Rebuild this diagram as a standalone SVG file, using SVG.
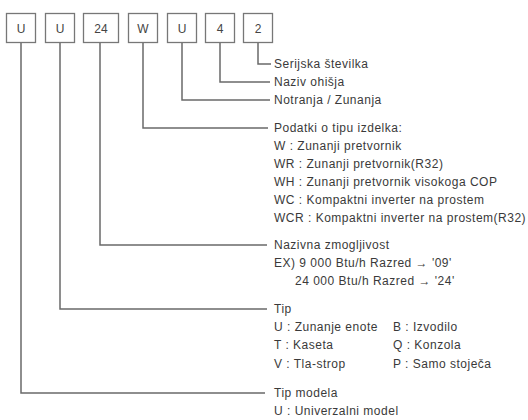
<svg xmlns="http://www.w3.org/2000/svg" width="528" height="420" viewBox="0 0 528 420">
<style>
.box{fill:#fff;stroke:#777;stroke-width:1.3}
.bt{font-family:"Liberation Sans",Arial,sans-serif;font-size:12px;fill:#444;text-anchor:middle}
.t{font-family:"Liberation Sans",Arial,sans-serif;font-size:12px;letter-spacing:0.5px;fill:#3a3a3a}
.c{fill:none;stroke:#6a6a6a;stroke-width:1.5}
</style>
<rect width="528" height="420" fill="#fff"/>
<g id="node-u1"><rect class="box" x="6.5" y="13.5" width="29" height="29"/><text class="bt" x="21" y="32.5">U</text></g>
<g id="node-u2"><rect class="box" x="45.5" y="13.5" width="29" height="29"/><text class="bt" x="60" y="32.5">U</text></g>
<g id="node-24"><rect class="box" x="83.5" y="13.5" width="35" height="29"/><text class="bt" x="101" y="32.5">24</text></g>
<g id="node-w"><rect class="box" x="128.5" y="13.5" width="29" height="29"/><text class="bt" x="143" y="32.5">W</text></g>
<g id="node-u3"><rect class="box" x="167.5" y="13.5" width="29" height="29"/><text class="bt" x="182" y="32.5">U</text></g>
<g id="node-4"><rect class="box" x="205.5" y="13.5" width="29" height="29"/><text class="bt" x="220" y="32.5">4</text></g>
<g id="node-2"><rect class="box" x="243.5" y="13.5" width="29" height="29"/><text class="bt" x="258" y="32.5">2</text></g>
<g id="connectors">
<path class="c" d="M258 43V64H271"/>
<path class="c" d="M220 43V82H270"/>
<path class="c" d="M182 43V100H270"/>
<path class="c" d="M143 43V128H268"/>
<path class="c" d="M100 43V245H267"/>
<path class="c" d="M60 43V309H267"/>
<path class="c" d="M21 43V393H265"/>
</g>
<g id="labels">
<text class="t" x="274" y="68">Serijska številka</text>
<text class="t" x="274" y="86">Naziv ohišja</text>
<text class="t" x="274" y="104">Notranja / Zunanja</text>
<text class="t" x="274" y="132">Podatki o tipu izdelka:</text>
<text class="t" x="274" y="150">W : Zunanji pretvornik</text>
<text class="t" x="274" y="168">WR : Zunanji pretvornik(R32)</text>
<text class="t" x="274" y="186">WH : Zunanji pretvornik visokoga COP</text>
<text class="t" x="274" y="204">WC : Kompaktni inverter na prostem</text>
<text class="t" x="274" y="222">WCR : Kompaktni inverter na prostem(R32)</text>
<text class="t" x="274" y="249">Nazivna zmogljivost</text>
<text class="t" x="274" y="267">EX) 9 000 Btu/h Razred → '09'</text>
<text class="t" x="295" y="285">24 000 Btu/h Razred → '24'</text>
<text class="t" x="274" y="313">Tip</text>
<text class="t" x="274" y="331">U : Zunanje enote</text>
<text class="t" x="274" y="349">T : Kaseta</text>
<text class="t" x="274" y="368">V : Tla-strop</text>
<text class="t" x="393" y="331">B : Izvodilo</text>
<text class="t" x="393" y="349">Q : Konzola</text>
<text class="t" x="393" y="368">P : Samo stoječa</text>
<text class="t" x="274" y="397">Tip modela</text>
<text class="t" x="274" y="415">U : Univerzalni model</text>
</g>
</svg>
